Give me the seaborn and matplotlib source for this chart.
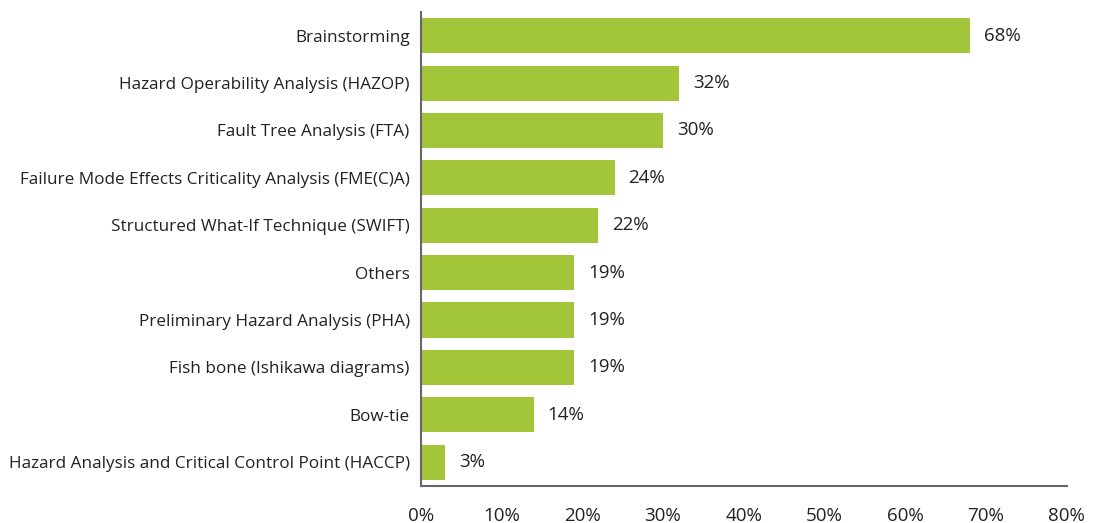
import pandas as pd
import numpy as np
import matplotlib.pyplot as plt
import seaborn as sns
from matplotlib.ticker import PercentFormatter

sns.set_theme(style="white")
plt.rcParams['font.family'] = ['Open Sans', 'DejaVu Sans']

# Data
methods = [
    'Brainstorming',
    'Hazard Operability Analysis (HAZOP)',
    'Fault Tree Analysis (FTA)',
    'Failure Mode Effects Criticality Analysis (FME(C)A)',
    'Structured What-If Technique (SWIFT)',
    'Others',
    'Preliminary Hazard Analysis (PHA)',
    'Fish bone (Ishikawa diagrams)',
    'Bow-tie',
    'Hazard Analysis and Critical Control Point (HACCP)',
]
shares = [68, 32, 30, 24, 22, 19, 19, 19, 14, 3]

df = pd.DataFrame({'method': methods, 'share': shares})

fig = plt.figure(figsize=(10.93, 5.23), dpi=100)
ax = fig.add_axes([0.385, 0.071, 0.591, 0.906])

sns.barplot(data=df, x='share', y='method', color='#a3c53a', saturation=1,
            width=0.74, linewidth=0, ax=ax)

ax.bar_label(ax.containers[0], labels=[f'{v}%' for v in shares],
             padding=10, fontsize=13.5, color='#222222')

ax.set_xlim(0, 80)
ax.set_xticks(np.arange(0, 81, 10))
ax.xaxis.set_major_formatter(PercentFormatter(decimals=0))
ax.set_xlabel('')
ax.set_ylabel('')
ax.tick_params(axis='x', length=0, pad=15, labelsize=13.5, labelcolor='#222222')
ax.tick_params(axis='y', length=0, pad=8, labelsize=12.3, labelcolor='#222222')

for side in ['top', 'right']:
    ax.spines[side].set_visible(False)
for side in ['left', 'bottom']:
    ax.spines[side].set_color('#666666')
    ax.spines[side].set_linewidth(1.5)

plt.savefig('out.png', dpi=100)
plt.close()
